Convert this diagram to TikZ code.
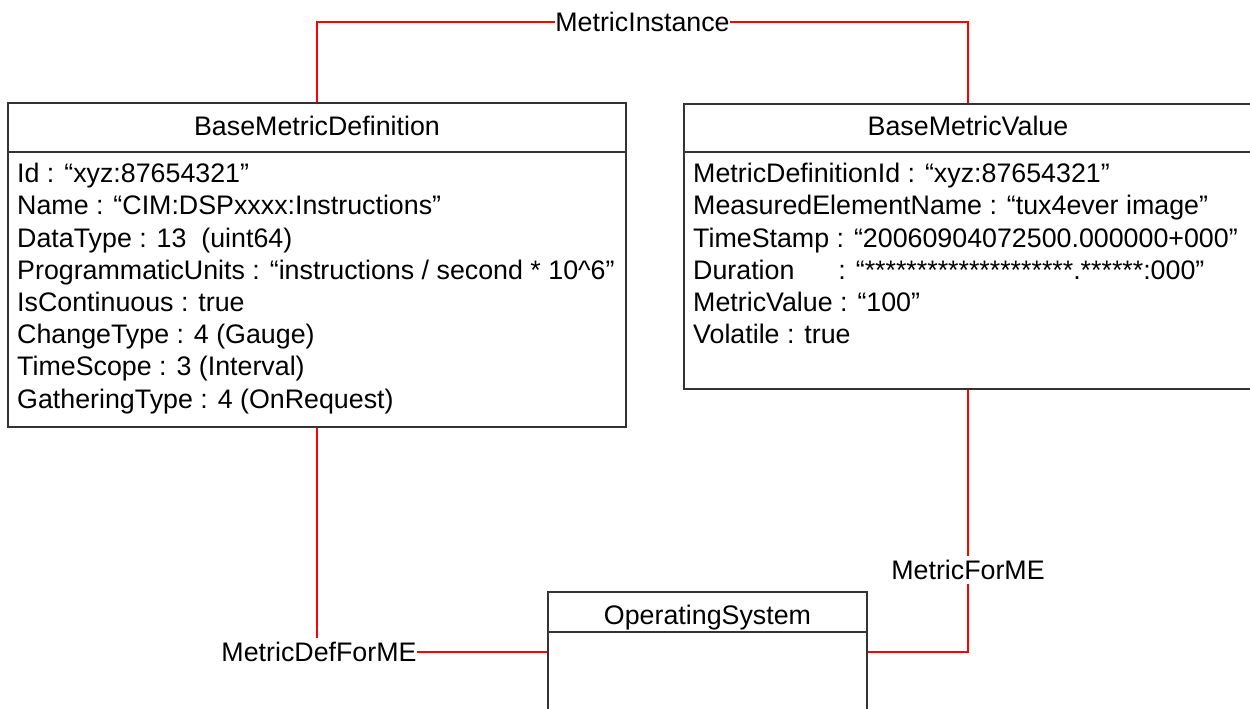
\documentclass[tikz,border=0pt]{standalone}
\usepackage{fontspec}
\setmainfont{Liberation Sans}
\newcommand\diagfont{\fontsize{26.8}{32.2}\selectfont}
\begin{document}
\begin{tikzpicture}[x=1pt,y=-1pt,
  umlbox/.style={draw=black!80, line width=1.3pt, rectangle, inner sep=0pt},
  divline/.style={draw=black!80, line width=1.3pt},
  conn/.style={draw=red, line width=1.4pt},
  lbl/.style={font=\diagfont, inner xsep=0.5pt, inner ysep=4pt, fill=white,
              text height=19pt, text depth=0pt},
  txt/.style={font=\diagfont, inner sep=0pt}]
\useasboundingbox (0,0) rectangle (1250,709);

% boxes
\node[umlbox, minimum width=618pt, minimum height=324pt] (bmd) at (317,265) {};
\node[umlbox, minimum width=568pt, minimum height=285pt] (bmv) at (968,246.5) {};
\node[umlbox, minimum width=319pt, minimum height=120pt] (os) at (707.5,652) {};

% compartment dividers
\draw[divline] (bmd.west |- 0,152) -- (bmd.east |- 0,152);
\draw[divline] (bmv.west |- 0,152) -- (bmv.east |- 0,152);
\draw[divline] (os.west |- 0,632) -- (os.east |- 0,632);

% headers
\node[txt, anchor=base] (bmdh) at (317,135) {BaseMetricDefinition};
\node[txt, anchor=base] (bmvh) at (968,135) {BaseMetricValue};
\node[txt, anchor=base] (osh) at (707.5,624) {OperatingSystem};

% attributes
\foreach \t [count=\i] in {
  {Id : “xyz:87654321”},
  {Name : “CIM:DSPxxxx:Instructions”},
  {DataType : 13\ \ (uint64)},
  {ProgrammaticUnits : “instructions / second * 10\textasciicircum 6”},
  {IsContinuous : true},
  {ChangeType : 4 (Gauge)},
  {TimeScope : 3 (Interval)},
  {GatheringType : 4 (OnRequest)}}
  \node[txt, anchor=base west] (d\i) at (17,{150.5+32.2*\i}) {\t};

\foreach \t [count=\i] in {
  {MetricDefinitionId : “xyz:87654321”},
  {MeasuredElementName : “tux4ever image”},
  {TimeStamp : “20060904072500.000000+000”},
  {Duration\hspace{44pt}: “********************.******:000”},
  {MetricValue : “100”},
  {Volatile : true}}
  \node[txt, anchor=base west] (v\i) at (693,{150.5+32.2*\i}) {\t};

% association labels
\node[lbl] (mi) at (642.5,22) {MetricInstance};
\node[lbl] (mdf) at (319,652) {MetricDefForME};
\node[lbl] (mfme) at (968,570) {MetricForME};

% connectors
\draw[conn] (mi.west) -| (bmd.north);
\draw[conn] (mi.east) -| (bmv.north);
\draw[conn] (bmd.south) -- (bmd.south |- mdf.north);
\draw[conn] (mdf.east) -- (os.west);
\draw[conn] (bmv.south) -- (mfme.north);
\draw[conn] (mfme.south) |- (os.east);
\end{tikzpicture}
\end{document}
